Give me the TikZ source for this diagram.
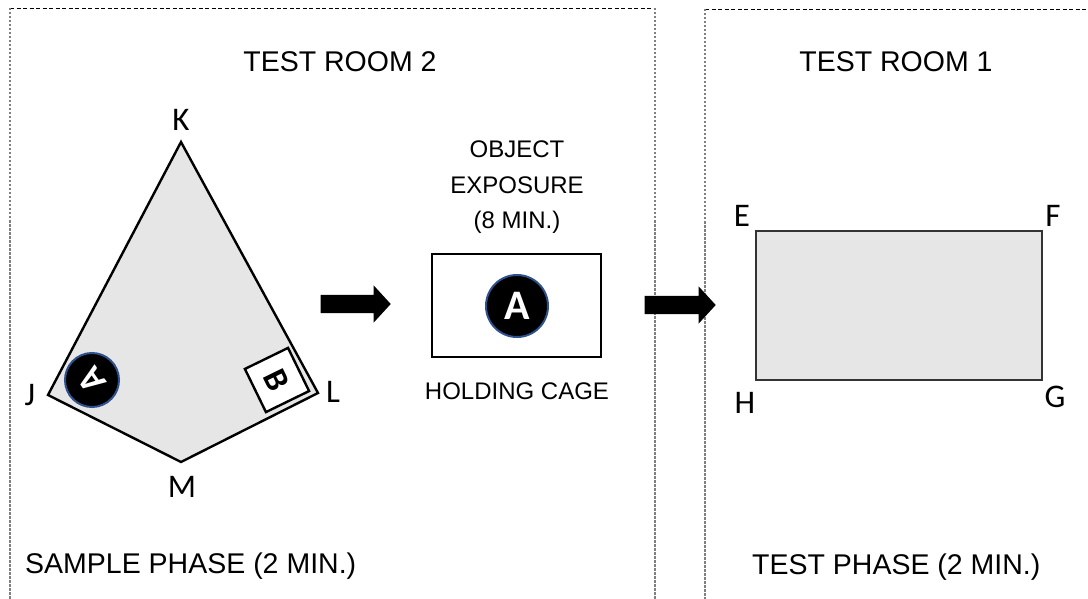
\documentclass[tikz,border=0pt]{standalone}
\usepackage{fontspec}
\setmainfont{Liberation Sans}
\newfontfamily\cornerfont{Carlito}
\usetikzlibrary{shapes, positioning}

\definecolor{floorgray}{HTML}{E6E6E6}
\definecolor{discline}{HTML}{2F528F}
\definecolor{rectline}{HTML}{333333}

\tikzset{
  roomtop/.style={black, line width=0.9pt, dash pattern=on 4pt off 2.5pt},
  roomside/.style={gray, line width=1.4pt, dash pattern=on 2.5pt off 1.5pt},
  heading/.style={inner sep=0, anchor=base, font=\fontsize{28.5}{34}\selectfont},
  note/.style={inner sep=0, align=center, font=\fontsize{24}{35.5}\selectfont},
  corner/.style={inner sep=0, anchor=base, font=\cornerfont\fontsize{33}{33}\selectfont},
  arena/.style={draw=black, fill=floorgray, line width=2.4pt, line join=miter},
  disc/.style={circle, draw=discline, line width=2pt, fill=black, text=white, inner sep=0},
  blockarrow/.style={single arrow, fill=black, inner sep=0, text height=9pt, text depth=9pt,
    single arrow head extend=9.5pt, single arrow tip angle=95}
}

\begin{document}
\begin{tikzpicture}[x=1pt, y=-1pt]
\useasboundingbox (0,0) rectangle (1088,599);

% the two rooms
\draw [roomtop] (10,8) -- (655,8);
\draw [roomside] (10,8) -- (10,599);
\draw [roomside] (655,8) -- (655,599);
\draw [roomtop] (705,9) -- (1088,9);
\draw [roomside] (705,9) -- (705,599);

\node [heading] (room2) at (340,72) {TEST ROOM 2};
\node [heading] (room1) at (896,72) {TEST ROOM 1};
\node [heading, anchor=base west] (sample) at (25,573) {SAMPLE PHASE (2 MIN.)};
\node [heading, anchor=base west] (test) at (752,574) {TEST PHASE (2 MIN.)};

% sample arena (kite)
\coordinate (K) at (181,142);
\coordinate (L) at (318,393);
\coordinate (M) at (181,462);
\coordinate (J) at (48,395);
\draw [arena] (K) -- (L) -- (M) -- (J) -- cycle;
\node [corner] (labK) at (181,131) {K};
\node [corner] (labJ) at (30,405) {J};
\node [corner] (labL) at (333,402) {L};
\node [corner] (labM) at (182,497) {M};

\node [disc, minimum size=54pt, rotate=125, font=\cornerfont\bfseries\fontsize{36}{36}\selectfont] (objA) at (92,380) {A};
\node [draw=black, fill=white, line width=2.4pt, rotate=26, minimum size=48pt] (boxB) at (277,380) {};
\node [rotate=-64, inner sep=0, font=\cornerfont\bfseries\fontsize{34}{34}\selectfont] (objB) at (boxB.center) {B};

% holding cage
\node [blockarrow, minimum height=70pt] (toCage) at (351.5,304) {};
\node [note, anchor=north] (exposure) at (517,141) {OBJECT\\EXPOSURE\\(8 MIN.)};
\draw [black, line width=2.6pt] (432,254) rectangle (601,357);
\node [disc, minimum size=62pt, font=\cornerfont\bfseries\fontsize{42}{42}\selectfont] (cageA) at (517,306) {A};
\node [note, anchor=base] (cage) at (517,399) {HOLDING CAGE};

% test arena (rectangle)
\node [blockarrow, minimum height=71pt] (toTest) at (676,305) {};
\coordinate (E) at (756,231);
\coordinate (G) at (1042,380);
\draw [draw=rectline, fill=floorgray, line width=2.4pt] (E) rectangle (G);
\node [corner] (labE) at (742,226) {E};
\node [corner] (labF) at (1053,226) {F};
\node [corner] (labH) at (745,413) {H};
\node [corner] (labG) at (1055,407) {G};
\end{tikzpicture}
\end{document}
